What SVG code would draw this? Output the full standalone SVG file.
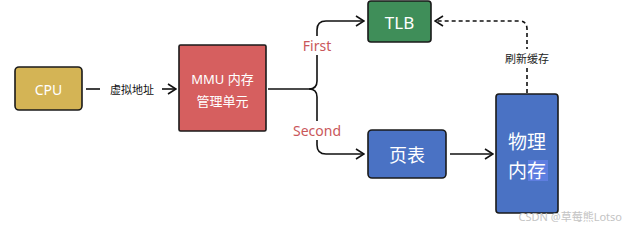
<svg xmlns="http://www.w3.org/2000/svg" width="628" height="227" viewBox="0 0 628 227">
<defs>
<style>
.box{stroke:#1a1a1a;stroke-width:1.6}
.wt{fill:#ffffff;font-family:"Noto Sans","Noto Sans CJK SC",sans-serif;text-anchor:middle;dominant-baseline:central}
.ln{fill:none;stroke:#111;stroke-width:1.6}
.dash{fill:none;stroke:#111;stroke-width:1.6;stroke-dasharray:4 3}
.lbl{font-family:"Noto Sans","Noto Sans CJK SC",sans-serif;text-anchor:middle;dominant-baseline:central}
.red{fill:#c9575a;font-size:14px}
</style>
<marker id="ah" viewBox="0 0 10 12" refX="9" refY="6" markerWidth="10" markerHeight="12" markerUnits="userSpaceOnUse" orient="auto">
<path d="M1 1 L9 6 L1 11" fill="none" stroke="#111" stroke-width="1.6"/>
</marker>
</defs>
<rect width="628" height="227" fill="#ffffff"/>
<g id="connectors">
<path class="ln" d="M86 89 H100"/>
<path class="ln" d="M162 89 H176" marker-end="url(#ah)"/>
<text class="lbl" x="132" y="89" font-size="11" fill="#111">虚拟地址</text>
<path class="ln" d="M268 89 H309 Q317 89 317 81 V30 Q317 21 326 21 H364" marker-end="url(#ah)"/>
<path class="ln" d="M309 89 Q317 89 317 97 V145 Q317 154 326 154 H364" marker-end="url(#ah)"/>
<rect x="300" y="36" width="34" height="19" fill="#ffffff"/>
<text class="lbl red" x="317" y="45">First</text>
<rect x="290" y="121" width="54" height="19" fill="#ffffff"/>
<text class="lbl red" x="317" y="130">Second</text>
<path class="ln" d="M450 154 H493" marker-end="url(#ah)"/>
<path class="dash" d="M527 93 V29 Q527 21 519 21 H435" marker-end="url(#ah)"/>
<rect x="500" y="49" width="54" height="18" fill="#ffffff"/>
<text class="lbl" x="527" y="58" font-size="11" fill="#222">刷新缓存</text>
</g>
<g id="cpu">
<rect class="box" x="15" y="67" width="67" height="43" rx="4" fill="#d4b455"/>
<text class="wt" x="48.5" y="89" font-size="14">CPU</text>
</g>
<g id="mmu">
<rect class="box" x="179" y="45" width="87" height="86" rx="1.5" fill="#d65f5f"/>
<text class="wt" x="222.5" y="79" font-size="13">MMU 内存</text>
<text class="wt" x="222.5" y="101" font-size="13">管理单元</text>
</g>
<g id="tlb">
<rect class="box" x="368" y="1" width="63" height="41" rx="3" fill="#3f8e59"/>
<text class="wt" x="399.5" y="22" font-size="17">TLB</text>
</g>
<g id="pagetable">
<rect class="box" x="368" y="130" width="78" height="48" rx="4" fill="#4a72c4"/>
<text class="wt" x="407" y="155" font-size="18">页表</text>
</g>
<g id="physmem">
<rect class="box" x="496" y="94" width="62" height="119" rx="3" fill="#4a72c4"/>
<rect x="528" y="160" width="20" height="21" fill="#5e7ee0"/>
<text class="wt" x="527" y="142" font-size="19">物理</text>
<text class="wt" x="527" y="171" font-size="19">内存</text>
</g>
<text x="622" y="216" font-family="'Noto Sans','Noto Sans CJK SC',sans-serif" font-size="11" fill="#c4c4c4" text-anchor="end" dominant-baseline="central">CSDN @草莓熊Lotso</text>
</svg>
